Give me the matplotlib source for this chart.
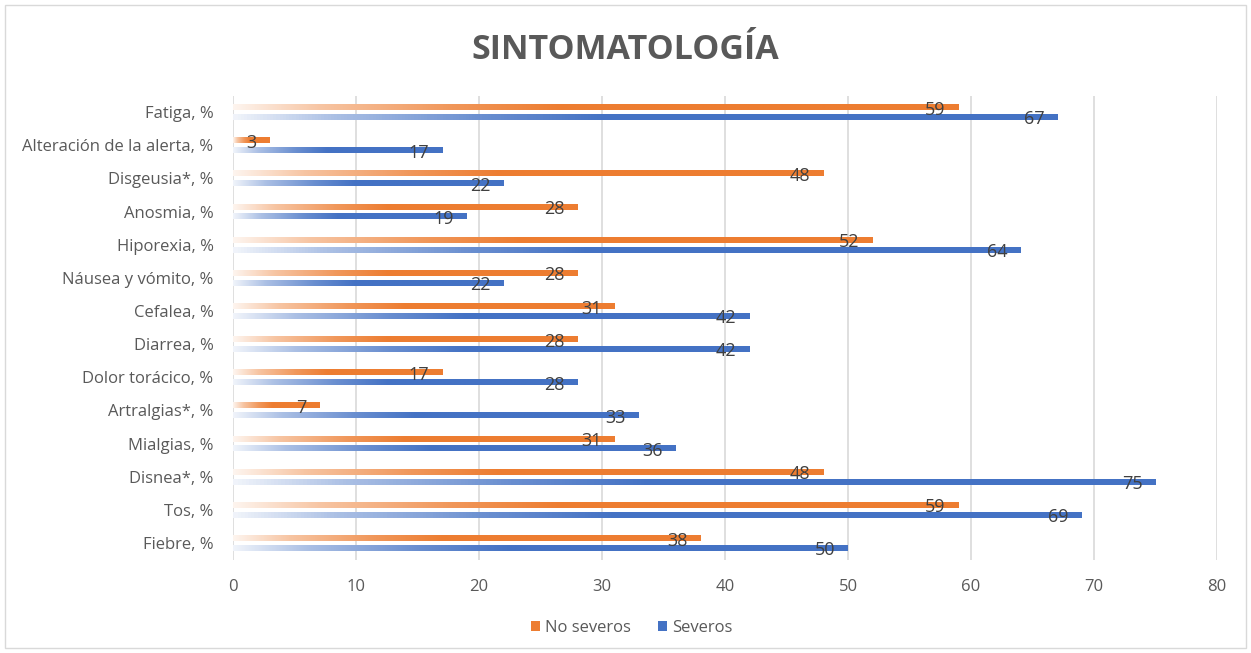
import numpy as np
import matplotlib
matplotlib.use("Agg")
import matplotlib.pyplot as plt
from matplotlib.colors import LinearSegmentedColormap
from matplotlib.patches import Rectangle

categories = ["Fiebre, %", "Tos, %", "Disnea*, %", "Mialgias, %", "Artralgias*, %",
              "Dolor torácico, %", "Diarrea, %", "Cefalea, %", "Náusea y vómito, %",
              "Hiporexia, %", "Anosmia, %", "Disgeusia*, %", "Alteración de la alerta, %",
              "Fatiga, %"]
no_severos = [38, 59, 48, 31, 7, 17, 28, 31, 28, 52, 28, 48, 3, 59]
severos = [50, 69, 75, 36, 33, 28, 42, 42, 22, 64, 19, 22, 17, 67]
series_names = ["No severos", "Severos"]
x_ticks = [0, 10, 20, 30, 40, 50, 60, 70, 80]

ORANGE = "#ED7D31"
BLUE = "#4472C4"
TEXT = "#595959"

plt.rcParams["font.family"] = ["Open Sans", "DejaVu Sans"]

fig = plt.figure(figsize=(12.51, 6.53), dpi=100)
ax = fig.add_axes([233 / 1251, 1 - 559.5 / 653, (1217 - 233) / 1251, (559.5 - 95.5) / 653])

# Outer chart border
fig.patches.append(Rectangle((5 / 1251, 5 / 653), 1 - 10 / 1251, 1 - 10 / 653,
                             transform=fig.transFigure, fill=False,
                             edgecolor="#d9d9d9", linewidth=1.0))


def fade_cmap(color):
    rgb = np.array(matplotlib.colors.to_rgb(color))
    return LinearSegmentedColormap.from_list(
        "fade", [(0.0, tuple(rgb * 0.08 + 0.92)), (0.12, tuple(rgb * 0.45 + 0.55)),
                 (0.3, tuple(rgb * 0.8 + 0.2)), (0.45, color), (1.0, color)])


grad = np.linspace(0, 1, 256).reshape(1, -1)
y = np.arange(len(categories))
bar_h = 0.18
offset = 0.15

for vals, color, dy, ldy in [(no_severos, ORANGE, offset, -0.08), (severos, BLUE, -offset, -0.07)]:
    cmap = fade_cmap(color)
    for yi, v in zip(y, vals):
        yc = yi + dy
        ax.imshow(grad, cmap=cmap, extent=[0, v, yc - bar_h / 2, yc + bar_h / 2],
                  aspect="auto", interpolation="bilinear", zorder=3)
        ax.text(v - 1.05, yc + ldy, f"{v}",
                ha="right", va="center", fontsize=13, color="#404040", zorder=4)

ax.set_xlim(0, 80)
ax.set_ylim(-0.5, len(categories) - 0.5)
ax.set_xticks(x_ticks)
ax.set_xticklabels([str(t) for t in x_ticks], fontsize=12, color=TEXT)
ax.set_yticks(y)
ax.set_yticklabels(categories, fontsize=12, color=TEXT)
ax.tick_params(axis="y", length=0, pad=14)
ax.tick_params(axis="x", length=0, pad=14)
ax.grid(axis="x", color="#d9d9d9", linewidth=1.2, zorder=0)
ax.set_axisbelow(True)
for s in ax.spines.values():
    s.set_visible(False)

fig.text(0.5, 1 - 50 / 653, "SINTOMATOLOGÍA", ha="center", va="center",
         fontsize=24.5, fontweight="bold", color=TEXT)

handles = [Rectangle((0, 0), 1, 1, facecolor=ORANGE), Rectangle((0, 0), 1, 1, facecolor=BLUE)]
fig.legend(handles, series_names, loc="center", bbox_to_anchor=(0.505, 1 - 628 / 653),
           ncol=2, frameon=False, fontsize=12, labelcolor=TEXT,
           handlelength=0.55, handleheight=0.55, handletextpad=0.3, columnspacing=1.6)

fig.savefig("out.png", dpi=100, facecolor="white")
